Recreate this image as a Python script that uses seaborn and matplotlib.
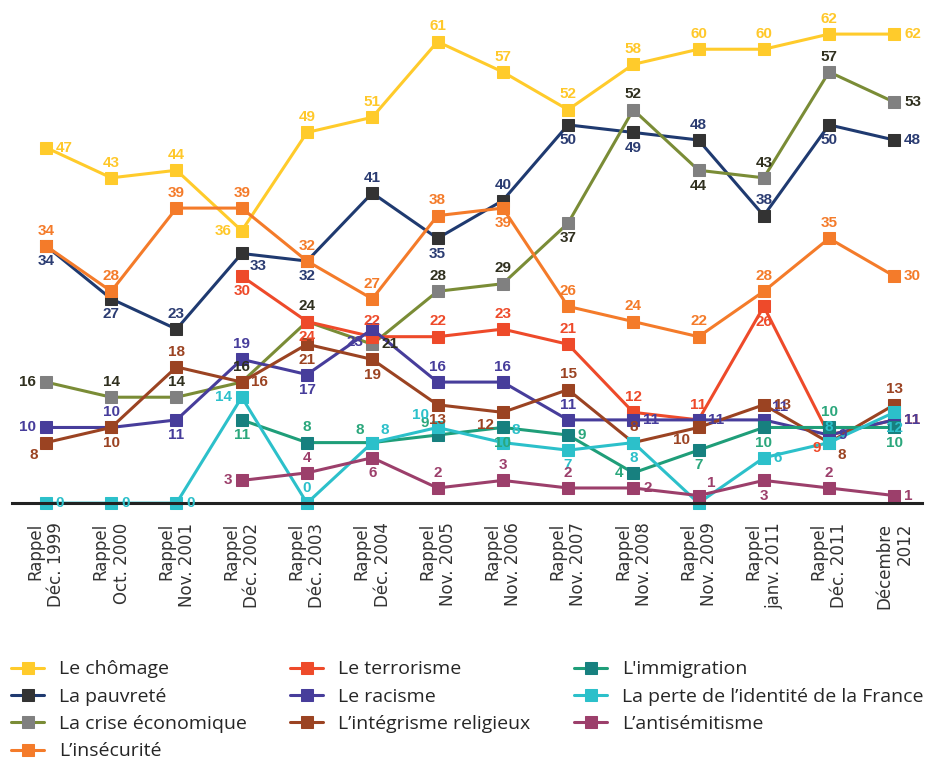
import numpy as np
import pandas as pd
import matplotlib
matplotlib.use("Agg")
import matplotlib.pyplot as plt
import seaborn as sns

# Survey waves (x axis)
periods = [
    "Rappel\nDéc. 1999", "Rappel\nOct. 2000", "Rappel\nNov. 2001", "Rappel\nDéc. 2002",
    "Rappel\nDéc. 2003", "Rappel\nDéc. 2004", "Rappel\nNov. 2005", "Rappel\nNov. 2006",
    "Rappel\nNov. 2007", "Rappel\nNov. 2008", "Rappel\nNov. 2009", "Rappel\njanv. 2011",
    "Rappel\nDéc. 2011", "Décembre\n2012",
]

nan = np.nan
chomage = [47, 43, 44, 36, 49, 51, 61, 57, 52, 58, 60, 60, 62, 62]
pauvrete = [34, 27, 23, 33, 32, 41, 35, 40, 50, 49, 48, 38, 50, 48]
crise = [16, 14, 14, 16, 24, 21, 28, 29, 37, 52, 44, 43, 57, 53]
insecurite = [34, 28, 39, 39, 32, 27, 38, 39, 26, 24, 22, 28, 35, 30]
terrorisme = [nan, nan, nan, 30, 24, 22, 22, 23, 21, 12, 11, 26, 9, 11]
racisme = [10, 10, 11, 19, 17, 23, 16, 16, 11, 11, 11, 11, 9, 11]
integrisme = [8, 10, 18, 16, 21, 19, 13, 12, 15, 8, 10, 13, 8, 13]
immigration = [nan, nan, nan, 11, 8, 8, 9, 10, 9, 4, 7, 10, 10, 10]
identite = [0, 0, 0, 14, 0, 8, 10, 8, 7, 8, 0, 6, 8, 12]
antisemitisme = [nan, nan, nan, 3, 4, 6, 2, 3, 2, 2, 1, 3, 2, 1]

# where each value label sits relative to its marker
label_pos = {
    "Le chômage": "r a a l a a a a a a a a a r",
    "La pauvreté": "b b a br b a b a b b a a b r",
    "La crise économique": "l a a a a r a a b a b a a r",
    "L’insécurité": "a a a a a a a b a a a a a r",
    "Le terrorisme": "- - - b b a a a a a a b bl r",
    "Le racisme": "l a b a b bl a a a r r ar r r",
    "L’intégrisme religieux": "bl b a r b b b bl a a bl r br a",
    "L'immigration": "- - - b a al al b r l b b a b",
    "La perte de l’identité de la France": "r r r l a ar al ar b b - r a b",
    "L’antisémitisme": "- - - l a b a a a r ar b a r",
}

offsets = {
    "a": (0, 11, "center"), "b": (0, -11, "center"),
    "r": (7, 0, "left"), "l": (-7, 0, "right"),
    "ar": (6, 9, "left"), "al": (-6, 9, "right"),
    "br": (6, -9, "left"), "bl": (-6, -9, "right"),
}

# name, values, line colour, marker colour, text colour
series = [
    ("Le chômage", chomage, "#FFCB2B", "#FFCB2B", "#FFC82A"),
    ("La pauvreté", pauvrete, "#1F3A70", "#333333", "#2B3C72"),
    ("La crise économique", crise, "#7A8C36", "#808080", "#30301F"),
    ("L’insécurité", insecurite, "#F47B2A", "#F47B2A", "#F47B2A"),
    ("Le terrorisme", terrorisme, "#EE4A2A", "#EE4A2A", "#EE4A2A"),
    ("Le racisme", racisme, "#473D9B", "#473D9B", "#473D9B"),
    ("L’intégrisme religieux", integrisme, "#9B4322", "#9B4322", "#9B4322"),
    ("L'immigration", immigration, "#1F9E79", "#17807F", "#2BA77C"),
    ("La perte de l’identité de la France", identite, "#2CC0CA", "#2CC0CA", "#2CC0CA"),
    ("L’antisémitisme", antisemitisme, "#9C3F6B", "#9C3F6B", "#9C3F6B"),
]

sns.set_style("white")
plt.rcParams["font.family"] = ["DejaVu Sans"]

fig = plt.figure(figsize=(9.27, 7.6), dpi=100)
ax = fig.add_axes([0.013, 0.338, 0.982, 0.647])

label_font = ["Liberation Sans Narrow", "Liberation Sans", "DejaVu Sans"]

for name, vals, lc, mc, tc in series:
    df = pd.DataFrame({"x": np.arange(len(periods)), "y": vals}).dropna()
    sns.lineplot(data=df, x="x", y="y", ax=ax, color=lc, linewidth=2.2,
                 marker="s", markersize=8, markerfacecolor=mc, markeredgecolor=mc,
                 label=name, clip_on=False)
    codes = label_pos[name].split()
    for xi, v, code in zip(range(len(vals)), vals, codes):
        if np.isnan(v) or code == "-":
            continue
        dx, dy, ha = offsets[code]
        ax.annotate(str(int(v)), (xi, v), xytext=(dx, dy), textcoords="offset points",
                    ha=ha, va="center", fontsize=11, fontweight="bold",
                    color=tc, family=label_font, zorder=10, annotation_clip=False)

ax.set_xlim(-0.52, 13.43)
ax.set_ylim(0, 65)
ax.set_xlabel("")
ax.set_ylabel("")
ax.set_yticks([])
ax.set_xticks(range(len(periods)))
ax.set_xticklabels(periods, rotation=90, fontsize=12, color="#333333", ma="right")
ax.tick_params(axis="x", length=0, pad=14)
for side in ["top", "right", "left"]:
    ax.spines[side].set_visible(False)
ax.spines["bottom"].set_color("#222222")
ax.spines["bottom"].set_linewidth(2.2)

handles, labels = ax.get_legend_handles_labels()
if ax.legend_:
    ax.legend_.remove()
fig.legend(handles, labels, loc="upper left", bbox_to_anchor=(0.012, 0.131),
           ncol=3, frameon=False, handlelength=1.7, borderpad=0, borderaxespad=0,
           handletextpad=0.75, columnspacing=2.25, labelspacing=0.48,
           prop={"family": ["Open Sans", "DejaVu Sans"], "size": 14})

fig.savefig("out.png", dpi=100)
